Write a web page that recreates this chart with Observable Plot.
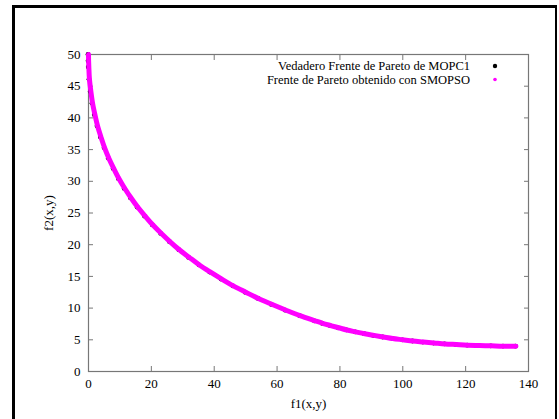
<!DOCTYPE html>
<html><head><meta charset="utf-8">
<script src="https://cdn.jsdelivr.net/npm/d3@7"></script>
<script src="https://cdn.jsdelivr.net/npm/@observablehq/plot@0.6"></script>
<style>
html,body{margin:0;padding:0;background:#fff;}
#wrap{position:relative;width:559px;height:419px;overflow:hidden;}
#border{position:absolute;left:12px;top:5px;width:540px;height:420px;border-left:3px solid #000;border-top:3px solid #000;border-right:2px solid #000;}
#chart{position:absolute;left:0;top:0;}
</style></head>
<body><div id="wrap"><div id="border"></div><div id="chart"></div></div>
<script>
// True Pareto front (black)
const trueF1 = [0,0.02,0.08,0.32,0.72,1.28,2,2.88,3.92,5.12,6.48,8,9.68,11.52,13.52,15.68,18,20.48,23.12,25.92,28.88,32,35.28,38.72,42.32,46.08,50,54.08,58.32,62.72,67.28,72,74.44,76.96,79.56,82.24,85,87.84,90.76,93.76,96.84,100,103.24,106.56,109.96,113.44,117,120.64,124.36,128.16,132.04,136];
const trueF2 = [50,49.0,48.02,46.08,44.18,42.32,40.5,38.72,36.98,35.28,33.62,32,30.42,28.88,27.38,25.92,24.5,23.12,21.78,20.48,19.22,18,16.82,15.68,14.58,13.52,12.5,11.52,10.58,9.68,8.82,8,7.61,7.24,6.89,6.56,6.25,5.96,5.69,5.44,5.21,5,4.81,4.64,4.49,4.36,4.25,4.16,4.09,4.04,4.01,4];
// SMOPSO front (magenta)
const smoF1 = [0,0.03,0.1,0.3,0.75,1.3,2.05,2.9,3.95,5.1,6.5,8.05,9.7,11.5,13.5,15.7,18.05,20.5,23.1,25.9,28.9,32.05,35.3,38.7,42.3,46.1,50.05,54.1,58.3,62.7,67.3,72.05,74.5,77,79.6,82.2,85,87.9,90.8,93.8,96.8,100,103.2,106.6,110,113.4,117,120.6,124.4,128.2,132,136];
const smoF2 = [50,49.1,48.1,46.1,44.2,42.3,40.5,38.7,37,35.3,33.6,32,30.4,28.9,27.4,25.9,24.5,23.1,21.8,20.5,19.2,18,16.8,15.7,14.6,13.5,12.5,11.5,10.6,9.7,8.8,8,7.6,7.25,6.9,6.55,6.25,5.95,5.7,5.45,5.2,5,4.8,4.65,4.5,4.35,4.25,4.15,4.1,4.05,4,4];
const xTicks = [0,20,40,60,80,100,120,140];
const yTicks = [0,5,10,15,20,25,30,35,40,45,50];
const legendLabels = ["Vedadero Frente de Pareto de MOPC1","Frente de Pareto obtenido con SMOPSO"];
const legendColors = ["#000000","#ff00ff"];

const trueData = trueF1.map((v,i)=>({f1:v,f2:trueF2[i]}));
const smoData = smoF1.map((v,i)=>({f1:v,f2:smoF2[i]}));

const font = "'Liberation Serif', 'Times New Roman', Tinos, 'DejaVu Serif', serif";
const plot = Plot.plot({
  width:559, height:419,
  marginLeft:88, marginRight:31, marginTop:54, marginBottom:48,
  style:{fontSize:"13px", color:"#000", background:"transparent", overflow:"visible"},
  x:{domain:[0,140], ticks:xTicks, label:null},
  y:{domain:[0,50], ticks:yTicks, label:null},
  marks:[
    Plot.axisX({anchor:"bottom", ticks:xTicks, tickSize:0, tickPadding:7, label:"f1(x,y)", labelAnchor:"center", labelArrow:"none", labelOffset:36, fontSize:13, fill:"#000"}),
    Plot.axisX({anchor:"bottom", ticks:xTicks.slice(1,-1), tickSize:5, dy:-5, text:null, label:null, stroke:"#777"}),
    Plot.axisX({anchor:"top", ticks:xTicks.slice(1,-1), tickSize:5, dy:5, text:null, label:null, stroke:"#777"}),
    Plot.axisY({anchor:"left", ticks:yTicks, tickSize:0, tickPadding:8, label:"f2(x,y)", labelAnchor:"center", labelOffset:45, labelArrow:"none", fontSize:13, fill:"#000"}),
    Plot.axisY({anchor:"left", ticks:yTicks.slice(1,-1), tickSize:5, dx:5, text:null, label:null, stroke:"#777"}),
    Plot.axisY({anchor:"right", ticks:yTicks.slice(1,-1), tickSize:5, dx:-5, text:null, label:null, stroke:"#777"}),
    Plot.frame({stroke:"#777", strokeWidth:1.2}),
    Plot.dot(trueData, {x:"f1", y:"f2", r:2.4, fill:"#000", stroke:"none", dx:-0.5}),
    Plot.line(smoData, {x:"f1", y:"f2", stroke:"#ff00ff", strokeWidth:5, strokeLinecap:"round", curve:"catmull-rom"})
  ]
});
// legend (top-right, inside the frame)
const svg = d3.select(plot);
const g = svg.append("g");
legendLabels.forEach((t,i)=>{
  g.append("text").attr("x", 528-58).attr("y", 54+12+13.5*i).attr("dy","0.32em")
    .attr("text-anchor","end").attr("font-size",12.5).attr("fill","#000").text(t);
  g.append("circle").attr("cx", 528-33).attr("cy", 54+12+13.5*i).attr("r", i===0?2.2:1.8).attr("fill", legendColors[i]);
});
svg.style("font-family", font);
svg.selectAll("g, text").style("font-family", font);
document.getElementById("chart").appendChild(plot);
</script></body></html>
